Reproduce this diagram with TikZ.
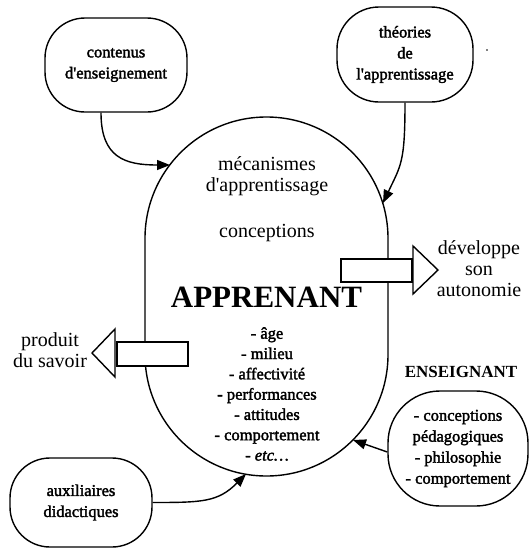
\documentclass[tikz,border=0pt]{standalone}
\usepackage{fontspec}
\setmainfont{Liberation Serif}[Ligatures=TeXOff]
\newfontfamily\boxfont{Liberation Serif}[FakeBold=2,Ligatures=TeXOff]
\usetikzlibrary{arrows.meta}
\begin{document}
\begin{tikzpicture}[x=1pt,y=-1pt,line width=1.4pt,
  bubble/.style={draw, inner sep=0pt, rounded corners=#1},
  smalltext/.style={font=\boxfont\fontsize{16.5}{21}\selectfont, align=center, inner sep=0pt},
  bigtext/.style={font=\fontsize{20}{21}\selectfont, align=center, inner sep=0pt},
  feed/.style={-{Triangle[length=13pt,width=10pt]}},
  hollow/.style={draw, fill=white, line join=miter}
]
\useasboundingbox (0,0) rectangle (529,550);

% central learner capsule
\node[bubble=121.4pt, minimum width=243pt, minimum height=359pt] (learner) at (266.5,296.5) {};

% points where the feeding arrows reach the capsule
\coordinate (tipA) at (170,165);
\coordinate (tipB) at (383,203);
\coordinate (tipC) at (353,440);
\coordinate (tipD) at (246,474);

% surrounding bubbles
\node[bubble=40pt, minimum width=142pt, minimum height=94pt, smalltext] (contenus) at (116,65) {contenus\\d'enseignement};
\node[bubble=42pt, minimum width=136pt, minimum height=95pt, smalltext] (theories) at (405,54.5) {théories\\de\\l'apprentissage};
\node[bubble=52pt, minimum width=140pt, minimum height=115pt, smalltext] (enseignant) at (458,448.5) {- conceptions\\pédagogiques\\- philosophie\\- comportement};
\node[bubble=40pt, minimum width=142pt, minimum height=89pt, smalltext] (auxil) at (81,502.5) {auxiliaires\\didactiques};

% stray dot
\fill (487,50) circle (0.9pt);

% feeding arrows
\draw[feed] ([xshift=-15pt]contenus.south) .. controls +(0,45) and +(-45,0) .. (tipA);
\draw[feed] (theories.south) .. controls +(0,60) and +(18,-38) .. (tipB);
\draw[feed] ([yshift=-3.5pt]enseignant.west) -- (tipC);
\draw[feed] (auxil.east) .. controls +(50,0) and +(-28,28) .. (tipD);

% hollow output arrows
\node[hollow, inner sep=0pt, minimum width=71pt, minimum height=23pt] (outR) at (376.5,270.5) {};
\draw[hollow] (413,246) -- (438,270) -- (413,294) -- cycle;
\node[hollow, inner sep=0pt, minimum width=71pt, minimum height=24pt] (outL) at (152.5,354) {};
\draw[hollow] (115,329) -- (92,353) -- (115,377) -- cycle;

% texts inside the capsule
\node[bigtext] (mecan) at (267,176) {mécanismes\\d'apprentissage};
\node[bigtext] (concep) at (267,233) {conceptions};
\node[font=\bfseries\fontsize{31}{31}\selectfont, inner sep=0pt] (apprenant) at (266.5,297) {APPRENANT};
\node[smalltext, font=\boxfont\fontsize{16.5}{20.3}\selectfont] (traits) at (267,394) {- âge\\- milieu\\- affectivité\\- performances\\- attitudes\\- comportement\\- \textit{etc…}};

% labels of the output arrows
\node[bigtext] (autonomie) at (479,269) {développe\\son\\autonomie};
\node[bigtext] (savoir) at (50,350) {produit\\du savoir};

% teacher heading
\node[font=\bfseries\fontsize{17}{17}\selectfont, inner sep=0pt] (enshead) at (461,372) {ENSEIGNANT};
\end{tikzpicture}
\end{document}
